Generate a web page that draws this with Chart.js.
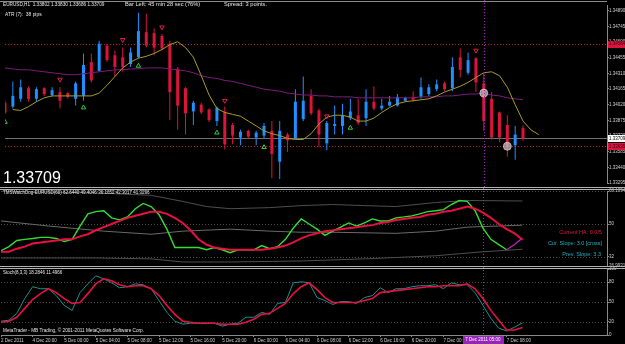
<!DOCTYPE html>
<html><head><meta charset="utf-8">
<title>EURUSD H1</title>
<script src="https://cdn.jsdelivr.net/npm/chart.js@4/dist/chart.umd.min.js"></script>
<style>
html,body{margin:0;padding:0;background:#000;overflow:hidden;}
#wrap{position:relative;width:625px;height:344px;background:#000;overflow:hidden;font-family:"Liberation Sans",Arial,sans-serif;}
#wrap canvas{position:absolute;left:0;}
.t{position:absolute;white-space:nowrap;line-height:1;color:#e6e6e6;}
.ln{position:absolute;left:0;}
</style></head><body>
<div id="wrap">
 <canvas id="cMain" width="625" height="188" style="top:0px"></canvas>
 <canvas id="cTms" width="625" height="79" style="top:188px"></canvas>
 <canvas id="cSto" width="625" height="77" style="top:267px"></canvas>
 <div class="ln" style="top:1px;width:607px;height:1px;background:#8a8a8a"></div>
 <div class="ln" style="top:187px;width:625px;height:1px;background:#b0b0b0"></div>
 <div class="ln" style="top:189px;width:625px;height:1px;background:#b0b0b0"></div>
 <div class="ln" style="top:266px;width:625px;height:1px;background:#b0b0b0"></div>
 <div class="ln" style="top:268px;width:625px;height:1px;background:#b0b0b0"></div>
 <div class="t" style="left:3px;top:3px;font-size:4.7px">EURUSD,H1&nbsp; 1.33802 1.33830 1.33686 1.33709</div>
 <div class="t" style="left:125px;top:2px;font-size:5.7px">Bar Left: 45 min 28 sec (76%)</div>
 <div class="t" style="left:224px;top:2px;font-size:5.7px">Spread: 3 points.</div>
 <div class="t" style="left:5px;top:13px;font-size:4.9px">ATR (7):&nbsp; 38 pips</div>
 <div class="t" style="left:3px;top:170px;font-size:16px;color:#fff">1.33709</div>
 <div class="t" style="left:3px;top:191px;font-size:4.5px">TMSWatchDog-EURUSD(60) 62.6440 49.4046 36.1652 42.3017 41.3296</div>
 <div class="t" style="right:23px;top:230px;font-size:5.5px;color:#e8173f">Current HA: 0.0/5</div>
 <div class="t" style="right:23px;top:241px;font-size:5.5px;color:#1fb2c4">Cur. Slope: 3.0 [cross]</div>
 <div class="t" style="right:24px;top:251.5px;font-size:5.5px;color:#1fb2c4">Prev. Slope: 3.3</div>
 <div class="t" style="left:3px;top:271px;font-size:4.5px">Stoch(8,3,3) 18.2846 11.4966</div>
 <div class="t" style="left:3px;top:329px;font-size:4.7px">MetaTrader - MB Trading, © 2001-2011 MetaQuotes Software Corp.</div>
</div>
<script>
const FONT = '"Liberation Sans", Arial, sans-serif';
Chart.defaults.font.family = FONT;

// ---------- data ----------
const tickBars  = [0, 4, 8, 12, 16, 20, 24, 28, 32, 36, 40, 44, 48, 52, 56, 60, 64];
const tickTexts = ['2 Dec 2011','4 Dec 20:00','5 Dec 00:00','5 Dec 04:00','5 Dec 08:00','5 Dec 12:00',
  '5 Dec 16:00','5 Dec 20:00','6 Dec 00:00','6 Dec 04:00','6 Dec 08:00','6 Dec 12:00',
  '6 Dec 16:00','6 Dec 20:00','7 Dec 00:00','7 Dec 04:00','7 Dec 08:00'];
const barWindow = [0, 76.7];

const priceRange = [1.33295, 1.34942];
const priceTicks = [1.33295,1.33440,1.33585,1.33730,1.33875,1.34020,1.34165,1.34310,1.34455,1.34600,1.34745,1.34890];
const tmsRange   = [26.9931, 68.1094];
const tmsTicks   = [26.9931, 32, 50, 68.1094];
const tmsTickText= ['26.9931', '32', '50', '68.1094'];
const stochRange = [0, 100];
const stochTicks = [0, 20, 50, 80, 100];

const opens = [
 1.34038,1.34002,1.34074,1.34172,1.34074,1.34172,1.34109,1.34136,1.34127,1.34074,
 1.34101,1.34414,1.34333,1.34566,1.34476,1.34459,1.34396,1.34459,1.34691,1.34682,
 1.34655,1.34584,1.34351,1.34172,1.33957,1.34020,1.33975,1.33868,1.33957,1.33832,
 1.33716,1.33778,1.33716,1.33734,1.33778,1.33492,1.33743,1.33707,1.33886,1.34101,
 1.33966,1.33662,1.33823,1.33823,1.33895,1.33922,1.33895,1.34047,1.33984,1.34011,
 1.34011,1.34056,1.34092,1.34092,1.34118,1.34163,1.34217,1.34172,1.34459,1.34315,
 1.34450,1.34217,1.34074,1.33948,1.33832,1.33644,1.33802];
const highs = [
 1.34056,1.34235,1.34253,1.34190,1.34181,1.34181,1.34181,1.34181,1.34136,1.34235,
 1.34494,1.34494,1.34611,1.34584,1.34521,1.34548,1.34548,1.34870,1.34861,1.34727,
 1.34673,1.34611,1.34369,1.34181,1.34056,1.34038,1.33984,1.34002,1.34002,1.33850,
 1.33787,1.33787,1.33778,1.33850,1.33868,1.33868,1.33760,1.34163,1.34280,1.34163,
 1.33984,1.33868,1.34011,1.34029,1.34074,1.34074,1.34163,1.34190,1.34074,1.34101,
 1.34118,1.34092,1.34145,1.34271,1.34208,1.34253,1.34235,1.34459,1.34539,1.34503,
 1.34459,1.34315,1.34136,1.33957,1.33922,1.33823,1.33830];
const lows = [
 1.33930,1.33984,1.34047,1.34047,1.34047,1.34101,1.34092,1.33984,1.34074,1.34011,
 1.34056,1.34226,1.34324,1.34414,1.34280,1.34324,1.34369,1.34450,1.34548,1.34476,
 1.34521,1.33877,1.33787,1.33743,1.33832,1.33930,1.33859,1.33823,1.33608,1.33653,
 1.33644,1.33707,1.33644,1.33707,1.33340,1.33331,1.33581,1.33698,1.33868,1.33922,
 1.33626,1.33599,1.33743,1.33743,1.33877,1.33832,1.33823,1.33966,1.33966,1.34002,
 1.34002,1.34047,1.34047,1.34074,1.34101,1.34145,1.34145,1.34145,1.34271,1.34297,
 1.34136,1.33778,1.33698,1.33671,1.33537,1.33510,1.33686];
const closes = [
 1.33948,1.34101,1.34181,1.34074,1.34163,1.34118,1.34154,1.34056,1.34092,1.34217,
 1.34387,1.34244,1.34584,1.34432,1.34369,1.34369,1.34503,1.34700,1.34566,1.34548,
 1.34539,1.34136,1.34011,1.33939,1.34038,1.33948,1.33877,1.33993,1.33653,1.33734,
 1.33769,1.33725,1.33760,1.33823,1.33564,1.33778,1.33689,1.34047,1.34056,1.33939,
 1.33743,1.33850,1.33841,1.33922,1.33957,1.33850,1.34047,1.33984,1.34011,1.34047,
 1.34092,1.34083,1.34065,1.34181,1.34181,1.34208,1.34163,1.34369,1.34342,1.34432,
 1.34226,1.33868,1.33716,1.33716,1.33626,1.33743,1.33709];

const maFast = [null,
 1.33975,1.33966,1.34002,1.34047,1.34083,1.34101,1.34101,1.34101,1.34101,1.34101,
 1.34101,1.34127,1.34199,1.34280,1.34360,1.34414,1.34450,1.34467,1.34494,1.34530,
 1.34575,1.34602,1.34548,1.34459,1.34288,1.34109,1.33984,1.33948,1.33930,1.33913,
 1.33868,1.33823,1.33778,1.33751,1.33734,1.33707,1.33698,1.33698,1.33751,1.33841,
 1.33904,1.33922,1.33922,1.33904,1.33868,1.33868,1.33895,1.33948,1.33993,1.34029,
 1.34047,1.34056,1.34065,1.34074,1.34101,1.34136,1.34163,1.34190,1.34226,1.34271,
 1.34315,1.34324,1.34288,1.34181,1.34020,1.33868,1.33787,1.33743];
const maSlow = [
 1.34360,1.34351,1.34342,1.34342,1.34333,1.34324,1.34315,1.34306,1.34297,1.34297,
 1.34306,1.34315,1.34324,1.34333,1.34342,1.34342,1.34351,1.34351,1.34360,1.34360,
 1.34360,1.34351,1.34342,1.34333,1.34315,1.34288,1.34271,1.34262,1.34244,1.34235,
 1.34217,1.34199,1.34181,1.34163,1.34154,1.34145,1.34127,1.34118,1.34109,1.34109,
 1.34101,1.34101,1.34092,1.34092,1.34092,1.34083,1.34083,1.34083,1.34083,1.34083,
 1.34083,1.34083,1.34083,1.34092,1.34092,1.34092,1.34101,1.34101,1.34109,1.34118,
 1.34118,1.34127,1.34109,1.34101,1.34083,1.34074,1.34065];

const downArrowBars   = [7, 15, 20, 28, 41, 60];
const downArrowPrices = [1.34253, 1.34620, 1.34736, 1.34056, 1.33913, 1.34521];
const upArrowBars     = [0, 10, 17, 27, 33, 44];
const upArrowPrices   = [1.33859, 1.33993, 1.34378, 1.33760, 1.33626, 1.33805];
const markerBars      = [61, 64];
const markerPrices    = [1.34127, 1.33635];

const redLevels = [1.34584, 1.33635];
const bidPrice  = 1.33709;
const crosshairBar = 61;
const crosshairLabel = '7 Dec 2011 05:00';

const tmsFast = [
 35.4,37.6,41.0,41.6,42.1,42.7,42.7,42.1,40.4,41.6,
 48.9,55.6,56.8,57.3,53.4,52.3,53.9,58.4,61.3,59.6,
 55.1,47.2,37.1,37.1,37.1,37.1,35.9,37.1,35.9,34.3,
 35.9,35.9,35.9,38.2,36.5,37.6,41.6,47.8,52.8,50.0,
 47.2,43.8,46.1,48.3,50.6,48.9,50.6,52.8,51.7,51.7,
 53.4,53.9,54.5,55.6,56.8,57.3,57.9,60.7,62.9,62.4,
 57.3,47.8,41.6,38.75,35.9,38.75,42.3];
const tmsFastAltFrom = 64;
const tmsSlow = [
 34.8,34.8,36.5,37.6,39.3,39.9,40.4,41.0,41.6,41.6,
 43.25,44.4,46.6,48.3,50.0,51.7,53.4,54.5,55.6,56.75,
 56.75,55.6,53.4,50.6,46.6,41.6,38.75,37.1,36.5,35.9,
 35.9,35.9,35.9,35.9,36.5,37.1,38.2,39.9,42.1,43.8,
 44.9,46.1,46.6,47.2,47.75,48.3,48.9,49.4,50.6,51.1,
 52.25,52.8,53.4,53.9,55.1,55.6,56.75,57.3,58.4,59.6,
 58.4,56.2,53.4,50.0,47.2,44.9,41.33];
const bandUpperBars = [0, 13, 19, 23, 26, 29, 34, 38, 42, 46, 50, 55, 59, 66];
const bandUpper     = [68.0, 66.9, 65.75, 62.4, 59.6, 58.4, 59.0, 60.1, 60.7, 60.1, 59.6, 61.8, 62.9, 62.64];
const bandMidBars   = [0, 6, 13, 19, 23, 29, 34, 38, 42, 50, 55, 59, 63, 66];
const bandMid       = [51.7, 48.9, 46.1, 44.4, 46.1, 47.2, 46.1, 45.5, 45.5, 44.9, 46.1, 48.3, 48.9, 49.4];
const bandLowerBars = [0, 12, 19, 23, 29, 38, 46, 55, 61, 66];
const bandLower     = [31.4, 31.4, 30.9, 29.2, 29.2, 29.75, 30.9, 32.6, 34.8, 36.17];
const tmsLevels = [68, 50, 32];

const stochK = [
 20.9,22.4,32.8,55.2,73.1,70.1,70.1,59.7,44.8,37.3,
 64.2,77.6,89.6,85.1,79.1,71.6,73.1,77.6,76.1,70.1,
 52.2,34.3,20.9,16.4,17.9,17.9,17.9,17.9,13.4,16.4,
 17.9,26.9,26.9,34.3,31.3,47.8,49.3,79.1,80.6,79.1,
 56.7,52.2,46.3,50.7,50.7,47.8,56.7,59.7,71.6,64.2,
 70.1,70.1,73.1,74.6,74.6,76.1,70.1,79.1,76.1,76.1,
 64.2,44.8,25.4,10.4,6.0,11.9,18.28];
const stochD = [
 19.4,20.9,26.9,40.3,53.7,62.7,70.1,64.2,55.2,47.8,
 49.3,62.7,77.6,85.1,82.1,76.1,73.1,74.6,74.6,70.1,
 59.7,44.8,31.3,20.9,19.4,17.9,17.9,17.9,16.4,16.4,
 16.4,19.4,23.9,31.3,32.8,40.3,47.8,62.7,73.1,79.1,
 68.7,56.7,49.3,49.3,49.3,49.3,52.2,55.2,64.2,65.7,
 67.2,68.7,70.1,71.6,73.1,73.1,74.6,74.6,74.6,77.6,
 70.1,55.2,37.3,22.4,7.5,7.5,11.5];
const stochLevels = [80, 50, 20];

// ---------- helpers ----------
const BULL = '#1E90FF', BEAR = '#DC143C';
const pts = (xs, ys) => xs.map((x, i) => ({ x, y: ys[i] }));
const seq = arr => arr.map((v, i) => ({ x: i, y: v }));

function makeOverlay(o) {
  return {
    id: 'overlay',
    beforeDatasetsDraw(chart) {
      const { ctx, chartArea: a } = chart; const y = chart.scales.y;
      ctx.save(); ctx.lineWidth = 1;
      (o.hLines || []).forEach(l => {
        const py = Math.round(y.getPixelForValue(l.value)) + 0.5;
        ctx.strokeStyle = l.color; ctx.setLineDash(l.dash || []);
        ctx.beginPath(); ctx.moveTo(a.left, py); ctx.lineTo(a.right, py); ctx.stroke();
      });
      ctx.restore();
    },
    afterDatasetsDraw(chart) {
      const { ctx, chartArea: a } = chart;
      const px = Math.round(chart.scales.x.getPixelForValue(o.crossBar)) + 0.5;
      ctx.save(); ctx.strokeStyle = '#a624c0'; ctx.lineWidth = 1; ctx.setLineDash([1, 2]);
      ctx.beginPath(); ctx.moveTo(px, 0); ctx.lineTo(px, o.crossToArea ? a.bottom : chart.height); ctx.stroke();
      ctx.restore();
    },
    afterDraw(chart) {
      const { ctx, chartArea: a } = chart; const y = chart.scales.y;
      ctx.save(); ctx.font = '4.5px ' + FONT; ctx.textBaseline = 'middle';
      (o.tags || []).forEach(t => {
        const py = y.getPixelForValue(t.value);
        ctx.fillStyle = t.bg; ctx.fillRect(a.right + 1, Math.round(py) - 3, 24, 7);
        ctx.fillStyle = t.fg; ctx.textAlign = 'left'; ctx.fillText(t.value.toFixed(5), a.right + 2, py + 0.5);
      });
      if (o.timeTag) {
        const px = chart.scales.x.getPixelForValue(o.crossBar);
        ctx.fillStyle = '#9428b4'; ctx.fillRect(Math.round(px) - 20, a.bottom + 1, 41, 8);
        ctx.fillStyle = '#ffffff'; ctx.textAlign = 'center'; ctx.fillText(o.timeTag, px, a.bottom + 5);
      }
      ctx.restore();
    }
  };
}

function rightAxis(range, ticks, labelOf) {
  return {
    position: 'right', min: range[0], max: range[1], beginAtZero: false,
    afterBuildTicks: s => { s.ticks = ticks.map(v => ({ value: v })); },
    afterFit: s => { s.width = 18; s.paddingTop = 0; s.paddingBottom = 0; },
    ticks: { color: '#cfcfcf', font: { size: 4.5 }, padding: 0, autoSkip: false, callback: labelOf },
    grid: { drawOnChartArea: false, drawTicks: true, tickLength: 2, color: '#8a8a8a' },
    border: { display: true, color: '#8a8a8a' }
  };
}
const hiddenX = { type: 'linear', min: barWindow[0], max: barWindow[1], offset: false, display: false, grid: { offset: false } };
const common = { animation: false, responsive: false, devicePixelRatio: 1, events: [],
  plugins: { legend: { display: false }, tooltip: { enabled: false } } };

// ---------- main price pane ----------
const barColors = opens.map((o, i) => closes[i] >= o ? BULL : BEAR);
new Chart(document.getElementById('cMain'), {
  type: 'bar',
  data: { datasets: [
    { type: 'line', data: pts(markerBars, markerPrices), showLine: false, pointStyle: 'circle', pointRadius: 4,
      pointBackgroundColor: 'rgba(200,200,200,0.7)', pointBorderColor: 'rgba(255,255,255,0.5)', pointBorderWidth: 1 },
    { type: 'line', data: pts(downArrowBars, downArrowPrices), showLine: false, pointStyle: 'triangle', pointRotation: 180,
      pointRadius: 2.6, pointBackgroundColor: 'rgba(0,0,0,0)', pointBorderColor: '#e0204a', pointBorderWidth: 1 },
    { type: 'line', data: pts(upArrowBars, upArrowPrices), showLine: false, pointStyle: 'triangle',
      pointRadius: 2.6, pointBackgroundColor: 'rgba(0,0,0,0)', pointBorderColor: '#2ecc40', pointBorderWidth: 1 },
    { type: 'line', data: seq(maFast), borderColor: '#a89a2c', borderWidth: 1, pointRadius: 0, tension: 0 },
    { type: 'line', data: seq(maSlow), borderColor: '#7c1c7c', borderWidth: 1, pointRadius: 0, tension: 0 },
    { type: 'bar', data: opens.map((o, i) => ({ x: i, y: [o, closes[i]] })), backgroundColor: barColors,
      barThickness: 3, grouped: false, minBarLength: 1, inflateAmount: 0 },
    { type: 'bar', data: highs.map((h, i) => ({ x: i, y: [lows[i], h] })), backgroundColor: barColors,
      barThickness: 1, grouped: false, inflateAmount: 0 }
  ] },
  options: Object.assign({}, common, {
    layout: { padding: { left: 1, right: 0, top: 3, bottom: 1 } },
    scales: { x: hiddenX, y: rightAxis(priceRange, priceTicks, v => v.toFixed(5)) }
  }),
  plugins: [makeOverlay({
    hLines: [{ value: redLevels[0], color: '#c8143c', dash: [1, 2] }, { value: redLevels[1], color: '#c8143c', dash: [1, 2] },
             { value: bidPrice, color: '#6e6e6e' }],
    tags: [{ value: redLevels[0], bg: '#dc143c', fg: '#3a0010' }, { value: bidPrice, bg: '#ffffff', fg: '#000000' },
           { value: redLevels[1], bg: '#dc143c', fg: '#3a0010' }],
    crossBar: crosshairBar
  })]
});

// ---------- TMS pane ----------
new Chart(document.getElementById('cTms'), {
  type: 'line',
  data: { datasets: [
    { data: seq(tmsSlow), borderColor: '#e81040', borderWidth: 2, pointRadius: 0, tension: 0 },
    { data: seq(tmsFast), borderColor: '#33dd33', borderWidth: 1.4, pointRadius: 0, tension: 0,
      segment: { borderColor: c => c.p0DataIndex >= tmsFastAltFrom ? '#c020c0' : '#33dd33' } },
    { data: pts(bandUpperBars, bandUpper), borderColor: '#4e4e4e', borderWidth: 1, pointRadius: 0, tension: 0 },
    { data: pts(bandMidBars, bandMid), borderColor: '#6a6a6a', borderWidth: 1, pointRadius: 0, tension: 0 },
    { data: pts(bandLowerBars, bandLower), borderColor: '#4e4e4e', borderWidth: 1, pointRadius: 0, tension: 0 }
  ] },
  options: Object.assign({}, common, {
    layout: { padding: { left: 1, right: 0, top: 3, bottom: 1 } },
    scales: { x: hiddenX, y: rightAxis(tmsRange, tmsTicks, (v, i) => tmsTickText[i]) }
  }),
  plugins: [makeOverlay({
    hLines: tmsLevels.map(v => ({ value: v, color: '#4a4a4a', dash: [1, 2] })),
    crossBar: crosshairBar
  })]
});

// ---------- Stochastic pane ----------
new Chart(document.getElementById('cSto'), {
  type: 'line',
  data: { datasets: [
    { data: seq(stochD), borderColor: '#e81040', borderWidth: 1.6, pointRadius: 0, tension: 0 },
    { data: seq(stochK), borderColor: '#1a9090', borderWidth: 1, pointRadius: 0, tension: 0 }
  ] },
  options: Object.assign({}, common, {
    layout: { padding: { left: 1, right: 0, top: 2, bottom: 0 } },
    scales: {
      x: { type: 'linear', min: barWindow[0], max: barWindow[1], offset: false, position: 'bottom',
        afterBuildTicks: s => { s.ticks = tickBars.map(v => ({ value: v })); },
        afterFit: s => { s.height = 9; s.paddingLeft = 0; s.paddingRight = 0; },
        ticks: { align: 'start', maxRotation: 0, minRotation: 0, autoSkip: false, padding: 1, color: '#cfcfcf',
          font: { size: 4.5 }, callback: (v, i) => tickTexts[i] },
        grid: { drawOnChartArea: false, drawTicks: true, tickLength: 2, color: '#8a8a8a', offset: false },
        border: { display: true, color: '#8a8a8a' } },
      y: rightAxis(stochRange, stochTicks, v => String(v))
    }
  }),
  plugins: [makeOverlay({
    hLines: stochLevels.map(v => ({ value: v, color: '#4a4a4a', dash: [1, 2] })),
    crossBar: crosshairBar, crossToArea: true, timeTag: crosshairLabel
  })]
});
</script>
</body></html>
